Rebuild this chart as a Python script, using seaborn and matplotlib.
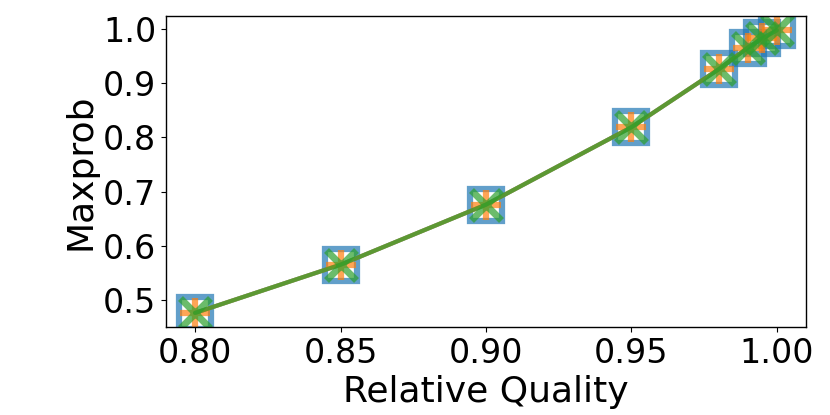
import numpy as np
import matplotlib
matplotlib.use("Agg")
import matplotlib.pyplot as plt
import seaborn as sns

# Relative quality vs. maxprob, three methods that overlap
quality = [0.80, 0.85, 0.90, 0.95, 0.98, 0.99, 0.995, 1.00]
maxprob_a = [0.476, 0.565, 0.676, 0.819, 0.926, 0.966, 0.983, 0.998]
maxprob_b = [0.476, 0.565, 0.676, 0.819, 0.926, 0.966, 0.983, 0.998]
maxprob_c = [0.476, 0.565, 0.676, 0.819, 0.926, 0.966, 0.983, 0.998]

sns.set_style("ticks")
plt.rcParams['font.family'] = ['DejaVu Sans']
plt.rcParams['text.color'] = 'black'
plt.rcParams['axes.labelcolor'] = 'black'

fig, ax = plt.subplots(figsize=(8.3, 4.15), dpi=100)
fig.subplots_adjust(left=0.2, right=0.971, top=0.961, bottom=0.212)

pal = sns.color_palette("tab10")
sns.lineplot(x=quality, y=maxprob_a, ax=ax, color=pal[0], marker='s',
             markersize=23.5, markerfacecolor='none', markeredgewidth=4.5,
             markeredgecolor=pal[0], linewidth=3, alpha=0.7)
sns.lineplot(x=quality, y=maxprob_b, ax=ax, color=pal[1], marker='+',
             markersize=21, markeredgewidth=4.5, markeredgecolor=pal[1],
             linewidth=3, alpha=0.7)
sns.lineplot(x=quality, y=maxprob_c, ax=ax, color=pal[2], marker='x',
             markersize=22, markeredgewidth=5, markeredgecolor=pal[2],
             linewidth=3, alpha=0.7)

for s in ax.spines.values():
    s.set_visible(True)
    s.set_color('black')
    s.set_linewidth(1)

ax.set_xticks([0.80, 0.85, 0.90, 0.95, 1.00])
ax.set_xticklabels(['0.80', '0.85', '0.90', '0.95', '1.00'])
ax.set_yticks([0.5, 0.6, 0.7, 0.8, 0.9, 1.0])
ax.tick_params(labelsize=24, colors='black')
ax.set_xlabel('Relative Quality', fontsize=26)
ax.set_ylabel('Maxprob', fontsize=26)

fig.savefig('out.png', dpi=100)
